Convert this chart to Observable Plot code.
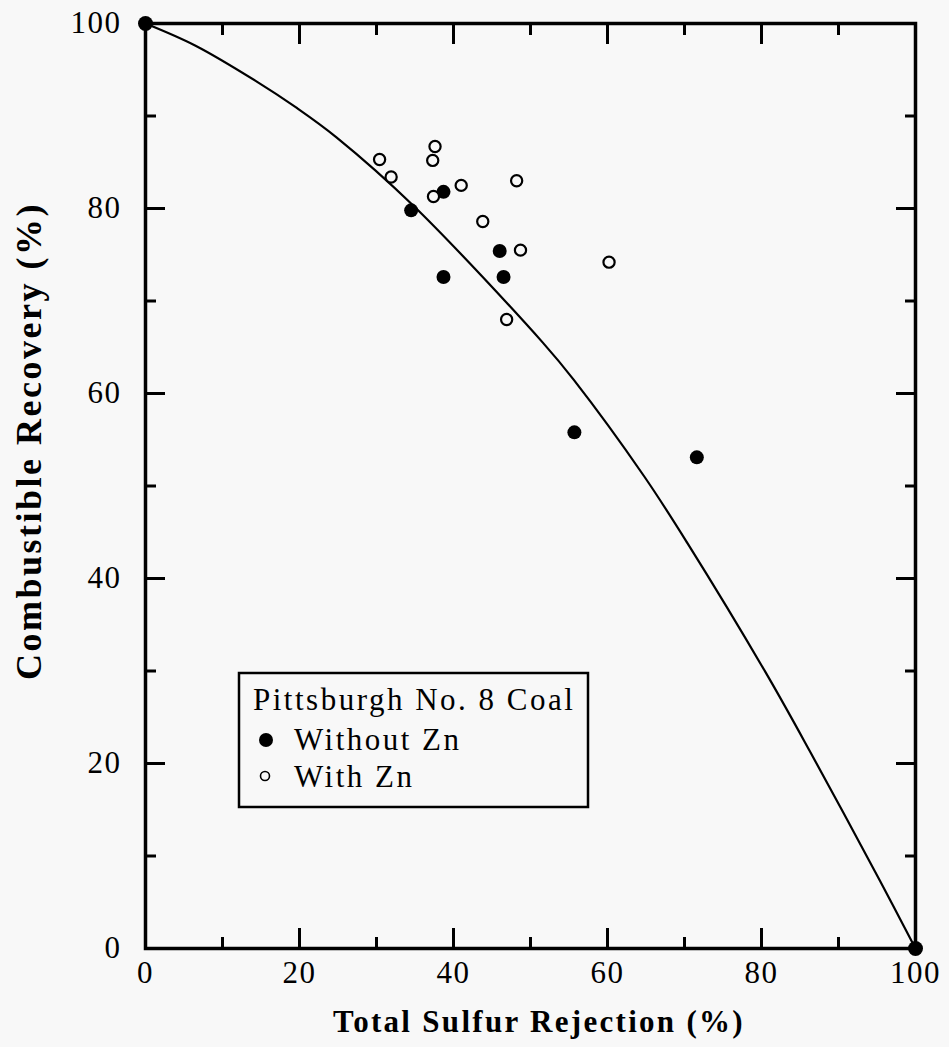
<!DOCTYPE html>
<html>
<head>
<meta charset="utf-8">
<script src="https://cdn.jsdelivr.net/npm/d3@7"></script>
<script src="https://cdn.jsdelivr.net/npm/@observablehq/plot@0.6"></script>
<style>
  html, body { margin: 0; padding: 0; background: #f8f8f8; }
  #chart { width: 949px; height: 1047px; }
</style>
</head>
<body>
<div id="chart"></div>
<script>
// Flotation results, Pittsburgh No. 8 coal
const withoutZnX = [38.7, 34.5, 46.0, 38.7, 46.5, 55.7, 71.6];
const withoutZnY = [81.8, 79.8, 75.4, 72.6, 72.6, 55.8, 53.1];
const withZnX = [30.4, 31.9, 37.6, 37.3, 37.4, 41.0, 48.2, 43.8, 48.7, 60.2, 46.9];
const withZnY = [85.3, 83.4, 86.7, 85.2, 81.3, 82.5, 83.0, 78.6, 75.5, 74.2, 68.0];

// Ideal separation curve and its end points
const curveX = [0, 6.5, 14.3, 19.6, 24.8, 34.8, 51.6, 55.6, 64.8, 70.4, 80.5, 86.3, 95.4, 100];
const curveY = [100, 97.6, 93.8, 90.9, 87.7, 80.3, 65.5, 61.5, 51.0, 43.8, 29.9, 21.3, 7.3, 0];
const endX = [0, 100];
const endY = [100, 0];

// Axis ticks
const majorTicks = [0, 20, 40, 60, 80, 100];
const minorTicks = [10, 30, 50, 70, 90];

const xTitle = "Total Sulfur Rejection (%)";
const yTitle = "Combustible Recovery (%)";
const legendTitle = "Pittsburgh No. 8 Coal";
const legendSeries = ["Without Zn", "With Zn"];

const pts = (xs, ys) => xs.map((x, i) => ({x, y: ys[i]}));
const bg = "#f8f8f8";
const W = 949, H = 1047;
const mL = 145, mR = 34, mT = 23, mB = 99;

// Inward ticks on all four sides
const tickAxes = [];
for (const anchor of ["bottom", "top"]) {
  tickAxes.push(Plot.axisX(majorTicks, {anchor, tickSize: -20, fill: "none", strokeWidth: 3}));
  tickAxes.push(Plot.axisX(minorTicks, {anchor, tickSize: -11, fill: "none", strokeWidth: 3}));
}
for (const anchor of ["left", "right"]) {
  tickAxes.push(Plot.axisY(majorTicks, {anchor, tickSize: -20, fill: "none", strokeWidth: 3}));
  tickAxes.push(Plot.axisY(minorTicks, {anchor, tickSize: -11, fill: "none", strokeWidth: 3}));
}

const chart = Plot.plot({
  width: W, height: H,
  marginLeft: mL, marginRight: mR, marginTop: mT, marginBottom: mB,
  x: {domain: [0, 100], label: null},
  y: {domain: [0, 100], label: null},
  style: {fontFamily: "'Liberation Serif', 'Times New Roman', serif", fontSize: "31px", background: "transparent", color: "#000", overflow: "visible"},
  marks: [
    Plot.axisX(majorTicks, {anchor: "bottom", tickSize: 0, tickPadding: 12, fontSize: 31}),
    Plot.axisY(majorTicks, {anchor: "left", tickSize: 0, tickPadding: 24, fontSize: 31}),
    ...tickAxes,
    Plot.line(pts(curveX, curveY), {x: "x", y: "y", curve: "catmull-rom", stroke: "#000", strokeWidth: 2.2}),
    Plot.dot(pts(withoutZnX, withoutZnY), {x: "x", y: "y", r: 7, fill: "#000", stroke: "none"}),
    Plot.dot(pts(withZnX, withZnY), {x: "x", y: "y", r: 5.6, fill: bg, stroke: "#000", strokeWidth: 2.2}),
    Plot.frame({stroke: "#000", strokeWidth: 3.5}),
    Plot.dot(pts(endX, endY), {x: "x", y: "y", r: 7.5, fill: "#000", clip: false})
  ]
});

document.getElementById("chart").appendChild(chart);

const svg = d3.select(chart);
svg.selectAll('g[aria-label="x-axis tick label"] text, g[aria-label="y-axis tick label"] text')
  .style("letter-spacing", "1.5px");

// Axis titles
svg.append("text")
  .attr("x", 539).attr("y", 1032)
  .attr("text-anchor", "middle")
  .style("font-weight", "bold").style("font-size", "31px").style("letter-spacing", "2.3px")
  .text(xTitle);
svg.append("text")
  .attr("transform", "translate(41,441) rotate(-90)")
  .attr("text-anchor", "middle")
  .style("font-weight", "bold").style("font-size", "36px").style("letter-spacing", "2.5px")
  .text(yTitle);

// Legend box
const lg = svg.append("g").attr("text-anchor", "start");
lg.append("rect")
  .attr("x", 239).attr("y", 673).attr("width", 349).attr("height", 134)
  .attr("fill", bg).attr("stroke", "#000").attr("stroke-width", 2.5);
lg.append("text").attr("x", 253).attr("y", 710).attr("text-anchor", "start")
  .style("font-size", "31px").style("letter-spacing", "2.5px").text(legendTitle);
lg.append("circle").attr("cx", 266).attr("cy", 740).attr("r", 7).attr("fill", "#000");
lg.append("text").attr("x", 294).attr("y", 750).attr("text-anchor", "start")
  .style("font-size", "31px").style("letter-spacing", "2.5px").text(legendSeries[0]);
lg.append("circle").attr("cx", 265).attr("cy", 776).attr("r", 4.5)
  .attr("fill", "none").attr("stroke", "#000").attr("stroke-width", 1.6);
lg.append("text").attr("x", 294).attr("y", 787).attr("text-anchor", "start")
  .style("font-size", "31px").style("letter-spacing", "2.5px").text(legendSeries[1]);
</script>
</body>
</html>
